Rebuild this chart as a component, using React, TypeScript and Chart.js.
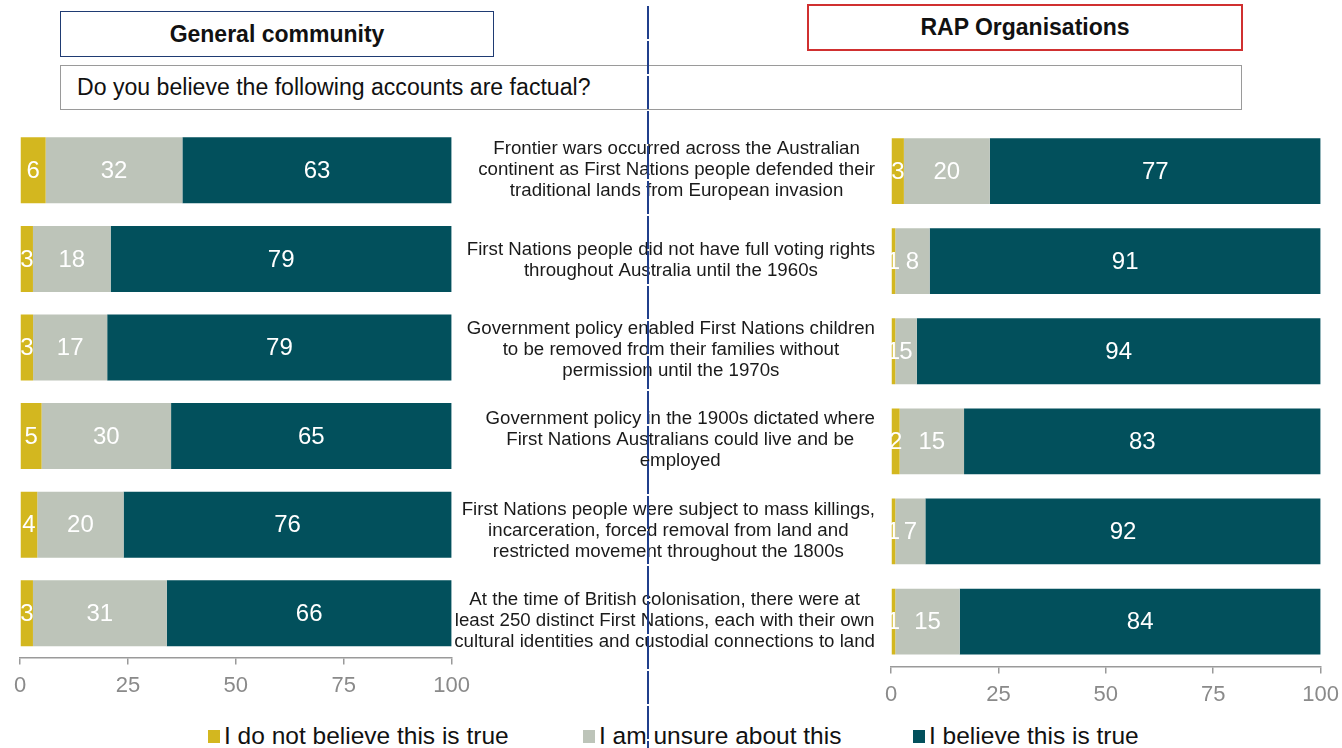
import React, { useEffect, useRef } from "react";
import { Chart, registerables } from "chart.js";

Chart.register(...registerables);

const FONT = "'Liberation Sans', Arial, Helvetica, sans-serif";

// Statements (category labels), with the line breaks of the reference
const statements: string[][] = [
  [
    "Frontier wars occurred across the Australian",
    "continent as First Nations people defended their",
    "traditional lands from European invasion",
  ],
  ["First Nations people did not have full voting rights", "throughout Australia until the 1960s"],
  [
    "Government policy enabled First Nations children",
    "to be removed from their families without",
    "permission until the 1970s",
  ],
  [
    "Government policy in the 1900s dictated where",
    "First Nations Australians could live and be",
    "employed",
  ],
  [
    "First Nations people were subject to mass killings,",
    "incarceration, forced removal from land and",
    "restricted movement throughout the 1800s",
  ],
  [
    "At the time of British colonisation, there were at",
    "least 250 distinct First Nations, each with their own",
    "cultural identities and custodial connections to land",
  ],
];

const seriesNames = ["I do not believe this is true", "I am unsure about this", "I believe this is true"];
const seriesColors = ["#D3B71F", "#BDC4B9", "#02505C"];

// General community (%)
const generalNotTrue = [6, 3, 3, 5, 4, 3];
const generalUnsure = [32, 18, 17, 30, 20, 31];
const generalTrue = [63, 79, 79, 65, 76, 66];

// RAP Organisations (%)
const rapNotTrue = [3, 1, 1, 2, 1, 1];
const rapUnsure = [20, 8, 5, 15, 7, 15];
const rapTrue = [77, 91, 94, 83, 92, 84];

const xTicks = [0, 25, 50, 75, 100];

const valueLabels = {
  id: "valueLabels",
  afterDatasetsDraw(chart: any) {
    const ctx = chart.ctx;
    ctx.save();
    ctx.font = `24px ${FONT}`;
    ctx.fillStyle = "#ffffff";
    ctx.textAlign = "center";
    ctx.textBaseline = "middle";
    chart.data.datasets.forEach((ds: any, di: number) => {
      const meta = chart.getDatasetMeta(di);
      meta.data.forEach((el: any, i: number) => {
        const p = el.getProps(["x", "base", "y"], true);
        ctx.fillText(String(ds.rawValues[i]), (p.x + p.base) / 2, p.y + 1);
      });
    });
    ctx.restore();
  },
};

const statementLabels = {
  id: "statementLabels",
  afterDraw(chart: any) {
    if (!chart.options.plugins.statementLabels?.show) return;
    const ctx = chart.ctx;
    const yScale = chart.scales.y;
    ctx.save();
    ctx.font = `18.7px ${FONT}`;
    ctx.fillStyle = "#1a1a1a";
    ctx.textAlign = "center";
    ctx.textBaseline = "middle";
    const rightEdge = chart.chartArea.left - 16;
    const lh = 21;
    statements.forEach((lines, i) => {
      const cy = yScale.getPixelForValue(i);
      const widest = Math.max(...lines.map((l) => ctx.measureText(l).width));
      const cx = rightEdge - widest / 2;
      lines.forEach((l, k) => {
        ctx.fillText(l, cx, cy + (k - (lines.length - 1) / 2) * lh - 1);
      });
    });
    ctx.restore();
  },
};

function makeConfig(series: number[][], barPct: number, withLabels: boolean, padding: any, yWidth: number): any {
  const totals = series[0].map((_, i) => series.reduce((s, arr) => s + arr[i], 0));
  return {
    type: "bar",
    data: {
      labels: statements,
      datasets: series.map((arr, si) => ({
        label: seriesNames[si],
        data: arr.map((v, i) => (v / totals[i]) * 100),
        rawValues: arr,
        backgroundColor: seriesColors[si],
        borderWidth: 0,
        barPercentage: barPct,
        categoryPercentage: 1,
      })),
    },
    options: {
      indexAxis: "y",
      responsive: false,
      animation: false,
      layout: { padding },
      plugins: {
        legend: { display: false },
        tooltip: { enabled: false },
        statementLabels: { show: withLabels },
      },
      scales: {
        x: {
          type: "linear",
          stacked: true,
          min: 0,
          max: 100,
          afterBuildTicks: (s: any) => {
            s.ticks = xTicks.map((v) => ({ value: v }));
          },
          grid: {
            drawOnChartArea: false,
            drawTicks: true,
            tickLength: 7,
            color: "#9a9a9a",
            lineWidth: 1.5,
          },
          border: { display: true, color: "#9a9a9a", width: 1.5 },
          ticks: { color: "#8a8a8a", font: { size: 22, family: FONT }, padding: 8 },
        },
        y: withLabels
          ? {
              type: "category",
              stacked: true,
              display: true,
              grid: { display: false },
              border: { display: false },
              ticks: { display: false },
              afterFit: (s: any) => {
                s.width = yWidth;
              },
            }
          : { type: "category", stacked: true, display: false },
      },
    },
    plugins: [valueLabels, statementLabels],
  };
}

function BarChart(props: {
  series: number[][];
  barPct: number;
  withLabels: boolean;
  padding: any;
  yWidth: number;
  left: number;
  top: number;
  width: number;
  height: number;
}) {
  const ref = useRef<HTMLCanvasElement>(null);
  useEffect(() => {
    if (!ref.current) return;
    const chart = new Chart(
      ref.current,
      makeConfig(props.series, props.barPct, props.withLabels, props.padding, props.yWidth)
    );
    return () => chart.destroy();
  }, []);
  return (
    <canvas
      ref={ref}
      width={props.width}
      height={props.height}
      style={{ position: "absolute", left: props.left, top: props.top, width: props.width, height: props.height }}
    />
  );
}

const legendLefts = [224, 599, 929];

export default function App() {
  return (
    <div
      style={{
        position: "absolute",
        left: 0,
        top: 0,
        width: 1342,
        height: 748,
        background: "#ffffff",
        overflow: "hidden",
        fontFamily: FONT,
        color: "#111",
      }}
    >
      <div
        style={{
          position: "absolute",
          left: 60,
          top: 11,
          width: 432,
          height: 44,
          border: "1.5px solid #1F3B73",
          fontWeight: "bold",
          fontSize: 23,
          display: "flex",
          alignItems: "center",
          justifyContent: "center",
        }}
      >
        General community
      </div>
      <div
        style={{
          position: "absolute",
          left: 807,
          top: 4,
          width: 432,
          height: 43,
          border: "2px solid #D03030",
          fontWeight: "bold",
          fontSize: 23,
          display: "flex",
          alignItems: "center",
          justifyContent: "center",
        }}
      >
        RAP Organisations
      </div>
      <div
        style={{
          position: "absolute",
          left: 60,
          top: 65,
          width: 1182,
          height: 45,
          border: "1px solid #9a9a9a",
          fontSize: 23.1,
          display: "flex",
          alignItems: "center",
          paddingLeft: 16,
          boxSizing: "border-box",
        }}
      >
        Do you believe the following accounts are factual?
      </div>

      <BarChart
        series={[generalNotTrue, generalUnsure, generalTrue]}
        barPct={0.745}
        withLabels={false}
        padding={{ left: 20, right: 19, top: 6, bottom: 2 }}
        yWidth={0}
        left={0}
        top={120}
        width={478}
        height={589}
      />
      <BarChart
        series={[rapNotTrue, rapUnsure, rapTrue]}
        barPct={0.73}
        withLabels={true}
        padding={{ left: 0, right: 20, top: 6, bottom: 2 }}
        yWidth={456}
        left={435}
        top={120}
        width={912}
        height={598}
      />

      {seriesNames.map((name, i) => (
        <div
          key={name}
          style={{
            position: "absolute",
            left: legendLefts[i] - 16,
            top: 722,
            height: 28,
            display: "flex",
            alignItems: "center",
            fontSize: 24.5,
            whiteSpace: "nowrap",
            color: "#111",
          }}
        >
          <span
            style={{
              display: "inline-block",
              width: 12,
              height: 13,
              background: seriesColors[i],
              marginRight: 4,
            }}
          />
          {name}
        </div>
      ))}

      <div
        style={{
          position: "absolute",
          left: 647,
          top: 6,
          width: 2,
          height: 742,
          background: "repeating-linear-gradient(to bottom, #203F8C 0px, #203F8C 33px, transparent 33px, transparent 35px)",
        }}
      />
    </div>
  );
}
